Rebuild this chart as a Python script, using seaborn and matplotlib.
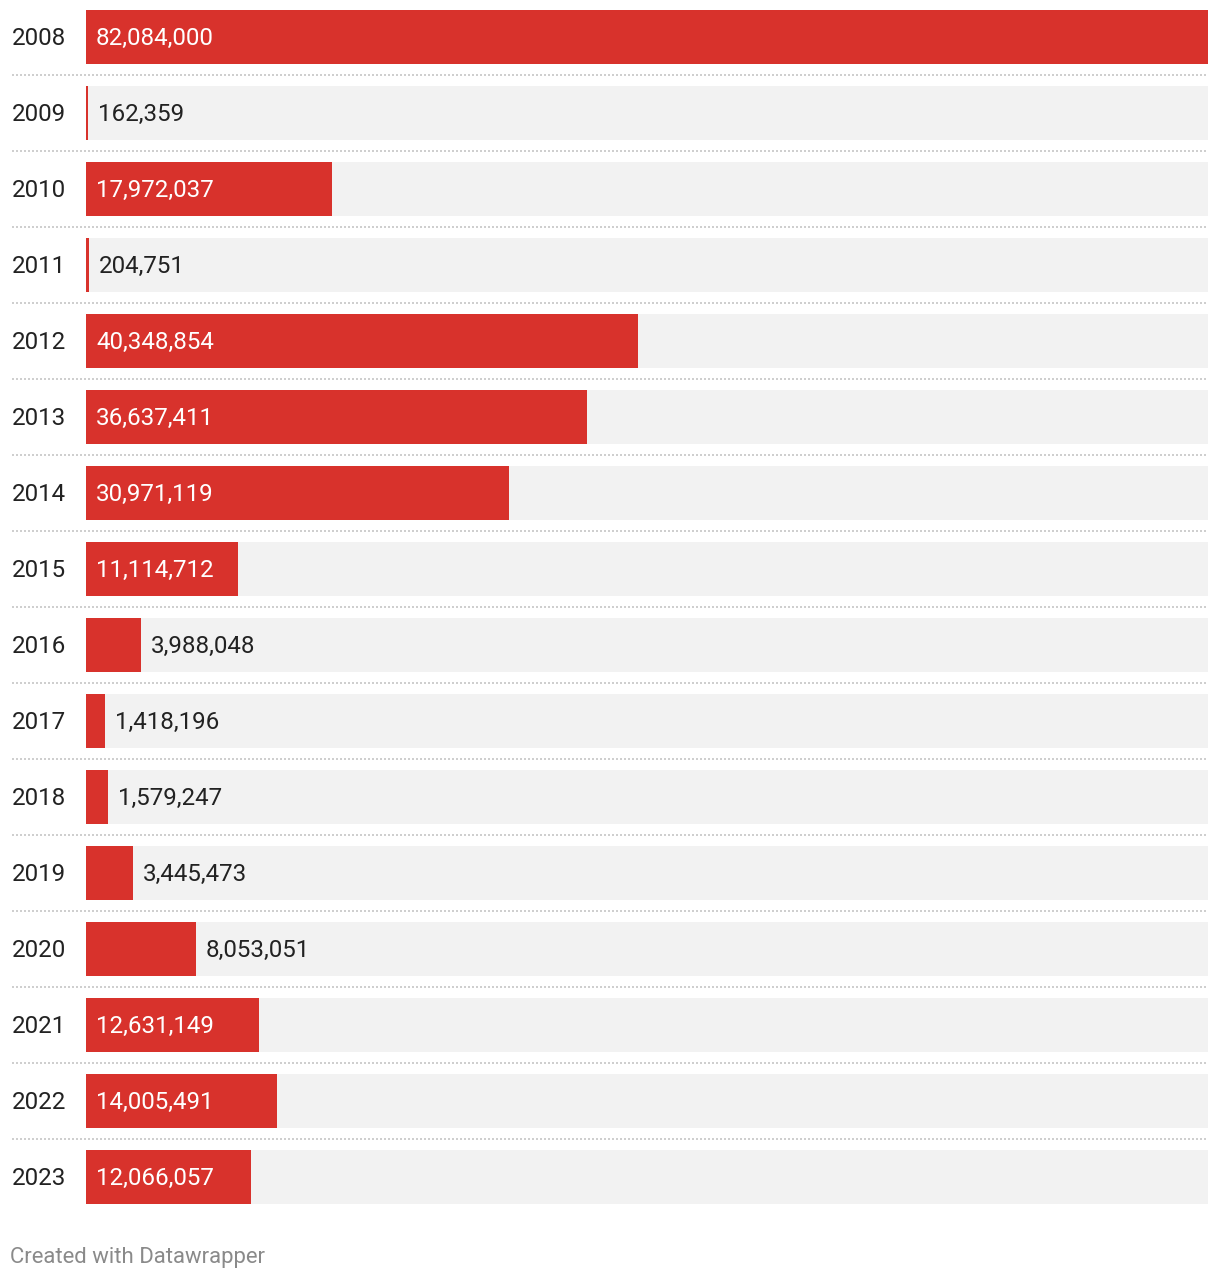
import matplotlib
matplotlib.use("Agg")
import matplotlib.pyplot as plt
import matplotlib.transforms as mtransforms
import seaborn as sns
import pandas as pd

years = ["2008", "2009", "2010", "2011", "2012", "2013", "2014", "2015",
         "2016", "2017", "2018", "2019", "2020", "2021", "2022", "2023"]
values = [82084000, 162359, 17972037, 204751, 40348854, 36637411, 30971119,
          11114712, 3988048, 1418196, 1579247, 3445473, 8053051, 12631149,
          14005491, 12066057]
footer = "Created with Datawrapper"

RED = "#d8322c"
BG = "#f2f2f2"
TXT = "#222222"

sns.set_theme(style="white")
plt.rcParams["font.family"] = ["Roboto", "DejaVu Sans"]

W, H = 1220, 1280
fig = plt.figure(figsize=(W / 100, H / 100), dpi=100)
n = len(years)
pitch = 76
left_px, right_px = 86, 1208
top_px = -1
ax = fig.add_axes([left_px / W, (H - (top_px + n * pitch)) / H,
                   (right_px - left_px) / W, n * pitch / H])

df = pd.DataFrame({"year": years, "value": values})
vmax = max(values)
df["bg"] = vmax

sns.barplot(data=df, x="bg", y="year", orient="h", color=BG, width=54 / 76,
            ax=ax, saturation=1, order=years, linewidth=0)
sns.barplot(data=df, x="value", y="year", orient="h", color=RED, width=54 / 76,
            ax=ax, saturation=1, order=years, linewidth=0)

ax.set_xlim(0, vmax)
ax.set_ylim(n - 0.5, -0.5)
ax.axis("off")

# separators
px_per_unit = (right_px - left_px) / vmax
xmin_sep = (12 - left_px) / px_per_unit
for i in range(n - 1):
    ax.hlines(i + 0.5, xmin_sep, vmax, colors="#cfcfcf", linewidth=1.44,
              linestyles=(0, (1, 1)), clip_on=False)

# year labels
ytrans = mtransforms.blended_transform_factory(fig.transFigure, ax.transData)
for i, y in enumerate(years):
    ax.text(12 / W, i - 0.015, y, transform=ytrans, ha="left",
            va="center_baseline", fontsize=17.4, color=TXT)

# value labels
fig.canvas.draw()
renderer = fig.canvas.get_renderer()
pad = 10 / px_per_unit
for i, v in enumerate(values):
    lab = f"{v:,}"
    t = ax.text(pad, i - 0.015, lab, ha="left", va="center_baseline",
                fontsize=17.4, color="white")
    tw = t.get_window_extent(renderer).width
    bar_px = v * px_per_unit
    if tw + 20 > bar_px:
        t.set_x(v + pad)
        t.set_color(TXT)

fig.text(10 / W, 1 - 1257 / H, footer, ha="left", va="center",
         fontsize=15.9, color="#8a8a8a")

fig.savefig("out.png", dpi=100, facecolor="white")
